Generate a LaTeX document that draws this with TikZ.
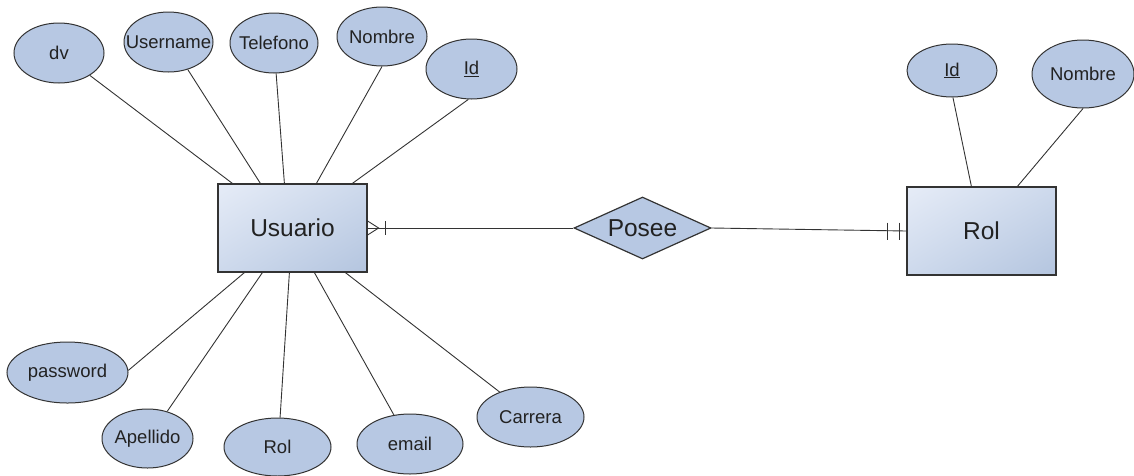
\documentclass[tikz,border=0pt]{standalone}
\usepackage{fontspec}
\setmainfont{Liberation Sans}
\usetikzlibrary{shapes.geometric,shadings}
\definecolor{attrfill}{HTML}{B7C8E3}
\definecolor{edgec}{HTML}{333333}
\definecolor{txtc}{HTML}{222222}
\definecolor{entlight}{HTML}{E6ECF7}
\definecolor{entmid}{HTML}{CDD9EC}
\definecolor{entdark}{HTML}{B4C5DF}
\newcommand{\attrtext}[1]{\makebox[0pt]{#1}}
\begin{document}
\begin{tikzpicture}[x=1pt,y=-1pt,
  attr/.style={ellipse, draw=edgec, line width=1pt, fill=attrfill, inner sep=0pt,
    text=txtc, font=\fontsize{18.5}{20}\selectfont},
  ent/.style={rectangle, draw=edgec, line width=1.2pt, minimum width=149pt, minimum height=88pt,
    upper left=entlight, upper right=entmid, lower left=entmid, lower right=entdark,
    text=txtc, font=\fontsize{24.5}{26}\selectfont},
  rel/.style={diamond, draw=edgec, line width=1.2pt, fill=attrfill, inner sep=0pt,
    minimum width=137pt, minimum height=62pt, aspect=2.2,
    text=txtc, font=\fontsize{24.5}{26}\selectfont},
  link/.style={draw=edgec, line width=0.9pt}]
\useasboundingbox (0,0) rectangle (1134,475);

% entities and relationship
\node[ent] (u) at (292.5,228) {Usuario};
\node[ent] (r) at (981.5,231) {Rol};
\node[rel] (p) at (642.5,228) {Posee};

% Usuario attributes
\node[attr, minimum width=90pt, minimum height=60pt] (dv) at (59,53) {\attrtext{dv}};
\node[attr, minimum width=89pt, minimum height=60pt] (un) at (168.5,42) {\attrtext{Username}};
\node[attr, minimum width=88pt, minimum height=60pt] (tel) at (274,43) {\attrtext{Telefono}};
\node[attr, minimum width=90pt, minimum height=59pt] (nom) at (382,36.5) {\attrtext{Nombre}};
\node[attr, minimum width=91pt, minimum height=60pt] (uid) at (471.5,69) {\attrtext{\underline{Id}}};
\node[attr, minimum width=121pt, minimum height=61pt] (pw) at (67.5,372.5) {\attrtext{password}};
\node[attr, minimum width=91pt, minimum height=59pt] (ap) at (147.5,438.5) {\attrtext{Apellido}};
\node[attr, minimum width=107pt, minimum height=58pt] (urol) at (277.5,447) {\attrtext{Rol}};
\node[attr, minimum width=106pt, minimum height=60pt] (em) at (410,444) {\attrtext{email}};
\node[attr, minimum width=107pt, minimum height=60pt] (car) at (530.5,417) {\attrtext{Carrera}};

% Rol attributes
\node[attr, minimum width=90pt, minimum height=53pt] (rid) at (952,70.5) {\attrtext{\underline{Id}}};
\node[attr, minimum width=102pt, minimum height=68pt] (rnom) at (1083,74) {\attrtext{Nombre}};

% attribute links
\draw[link] (dv.-36.6) -- ([xshift=15pt]u.north west);
\draw[link] (un.-55) -- ([xshift=43pt]u.north west);
\draw[link] (tel.-86) -- ([xshift=67pt]u.north west);
\draw[link] (nom.-90) -- ([xshift=99pt]u.north west);
\draw[link] (uid.-96) -- ([xshift=135pt]u.north west);
\draw[link] (pw.2) -- ([xshift=27pt]u.south west);
\draw[link] (ap.54) -- ([xshift=45pt]u.south west);
\draw[link] (urol.85) -- ([xshift=72pt]u.south west);
\draw[link] (em.119) -- ([xshift=97pt]u.south west);
\draw[link] (car.141.6) -- ([xshift=128pt]u.south west);
\draw[link] (rid.-88) -- ([xshift=65pt]r.north west);
\draw[link] (rnom.-90) -- ([xshift=111pt]r.north west);

% relationship links
\draw[link] (u.east) -- (p.west);
\draw[link] (p.east) -- (r.west);

% crow's foot (many) at Usuario
\coordinate (cf) at ([xshift=11pt]u.east);
\draw[link] ([yshift=7pt]u.east) -- (cf) -- ([yshift=-7pt]u.east);
\draw[link] ([xshift=18pt,yshift=7pt]u.east) -- ([xshift=18pt,yshift=-7pt]u.east);

% exactly one at Rol
\draw[link] ([xshift=-19pt,yshift=8.5pt]r.west) -- ([xshift=-19pt,yshift=-8.5pt]r.west);
\draw[link] ([xshift=-7pt,yshift=8.5pt]r.west) -- ([xshift=-7pt,yshift=-8.5pt]r.west);
\end{tikzpicture}
\end{document}
